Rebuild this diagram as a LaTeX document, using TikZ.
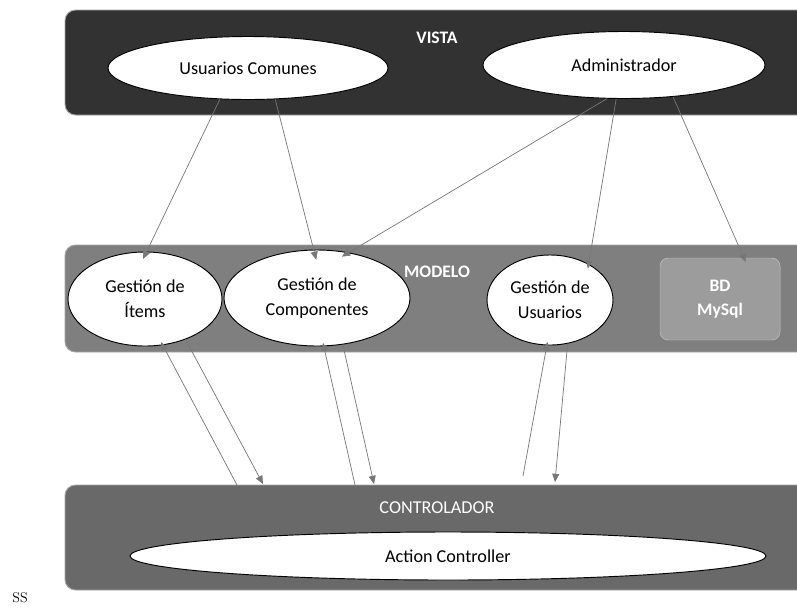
\documentclass[tikz,border=0pt]{standalone}
\usepackage{fontspec}
\newfontfamily\cali{Carlito}
\usetikzlibrary{arrows.meta,shapes.geometric}
\definecolor{VistaGray}{HTML}{323232}
\definecolor{ModeloGray}{HTML}{7F7F7F}
\definecolor{CtrlGray}{HTML}{696969}
\definecolor{BDGray}{HTML}{9C9C9C}
\definecolor{ArrGray}{HTML}{777777}
\tikzset{capa/.style={draw=gray!70,rounded corners=9pt,line width=0.8pt},
caso/.style={ellipse,draw=black,fill=white,line width=0.8pt,inner sep=0pt,align=center,font=\cali\fontsize{15.5}{21}\selectfont},
etiq/.style={text=white,font=\cali\bfseries\fontsize{15}{21}\selectfont},
arr/.style={-{Triangle[length=7pt,width=6pt]},ArrGray,line width=0.6pt}}

\begin{document}
\begin{tikzpicture}[x=0.03cm,y=-0.03cm]
\clip (0,0) rectangle (797,611);
\fill[white] (0,0) rectangle (797,611);
\draw[capa,fill=VistaGray] (65,10) rectangle (815,115);
\draw[capa,fill=ModeloGray] (65,245) rectangle (815,352);
\draw[capa,fill=CtrlGray] (65,485) rectangle (815,590);
\node[etiq] (vista) at (437,38) {VISTA};
\node[etiq] (modelo) at (437,272) {MODELO};
\node[etiq,font=\cali\fontsize{15.5}{21}\selectfont] (ctrl) at (437,508) {CONTROLADOR};
\node[caso,minimum width=8.4cm,minimum height=1.89cm] (uc) at (248,68) {Usuarios Comunes};
\node[caso,minimum width=8.46cm,minimum height=2.01cm] (ad) at (624,65) {Administrador};
\node[caso,minimum width=4.62cm,minimum height=2.82cm] (gi) at (145,299) {Gestión de\\Ítems};
\node[caso,minimum width=5.58cm,minimum height=2.88cm] (gc) at (317,298) {Gestión de\\Componentes};
\node[caso,minimum width=3.78cm,minimum height=2.7cm] (gu) at (550,300) {Gestión de\\Usuarios};
\node[etiq,draw=gray!45,fill=BDGray,rounded corners=7pt,minimum width=3.6cm,minimum height=2.46cm,align=center] (bd) at (720,299) {BD\\MySql};
\node[caso,minimum width=19.08cm,minimum height=1.44cm] (ac) at (448,556) {Action Controller};
\node[font=\large] (ss) at (20,598) {SS};
\coordinate (c1) at (237,485);
\coordinate (c2) at (263,484);
\coordinate (c3) at (355,485);
\coordinate (c4) at (374,484);
\coordinate (c5) at (523,476);
\coordinate (c6) at (555,482);
\draw[arr,shorten >=-7pt] (uc.228) -- (gi.88);
\draw[arr,shorten >=-9pt] (uc.311) -- (gc.94);
\draw[arr,shorten >=-7pt] (ad.243) -- (gc.55);
\draw[arr,shorten >=-4pt] (ad.257) -- (gu.43);
\draw[arr,shorten >=-4pt] (ad.327) -- (bd.60);
\draw[arr,shorten >=-3pt] (c1) -- (gi.291);
\draw[arr] (gi.315) -- (c2);
\draw[arr,shorten >=-3pt] (c3) -- (gc.278);
\draw[arr] (gc.299) -- (c4);
\draw[arr,shorten >=-3pt] (c5) -- (gu.266);
\draw[arr] (gu.292) -- (c6);
\end{tikzpicture}
\end{document}
